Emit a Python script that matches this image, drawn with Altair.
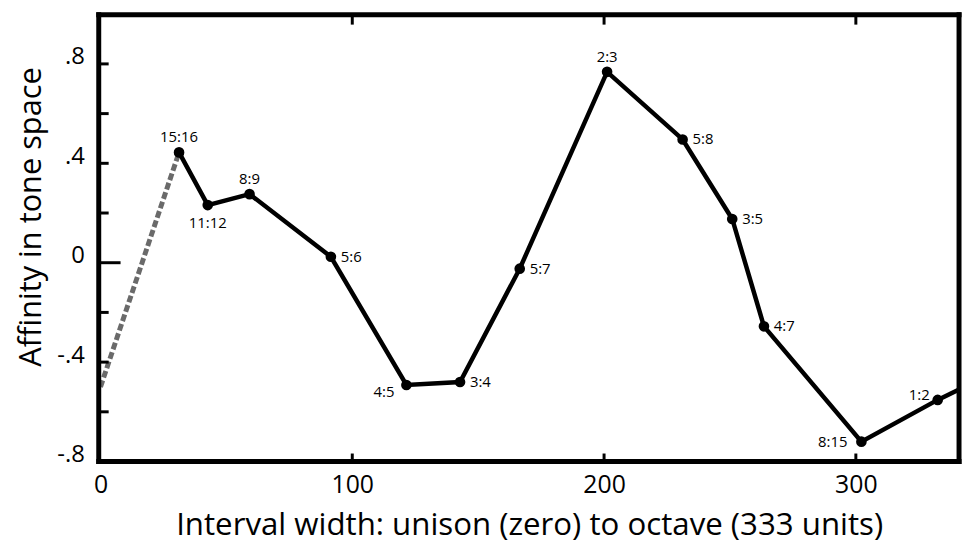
import altair as alt
import pandas as pd

# ---- data ----
ratios = ["15:16", "11:12", "8:9", "5:6", "4:5", "3:4", "5:7", "2:3",
          "5:8", "3:5", "4:7", "8:15", "1:2"]
widths = [31.2, 42.6, 59.2, 91.5, 121.5, 142.8, 166.5, 201.2,
          231.2, 250.9, 263.5, 302.2, 332.5]
affinity = [0.444, 0.232, 0.276, 0.024, -0.492, -0.48, -0.024, 0.768,
            0.496, 0.176, -0.256, -0.72, -0.552]

# dashed lead-in from unison to 15:16
dash_x = [0, 31.2]
dash_y = [-0.5, 0.444]
# line continues past the octave to the right edge
tail_x = 341
tail_y = -0.51

x_tick_values = [0, 100, 200, 300]
y_tick_values = [-0.8, -0.4, 0, 0.4, 0.8]
y_minor_ticks = [-0.6, -0.4, -0.2, 0.2, 0.4, 0.6, 0.8]
y_zero_tick = [0]
x_frame_ticks = [100, 200, 300]

# ---- label placement (style) ----
placement = {
    "15:16": "above", "8:9": "above", "2:3": "above",
    "11:12": "below",
    "5:6": "right", "3:4": "right", "5:7": "right", "5:8": "right",
    "3:5": "right", "4:7": "right",
    "8:15": "left",
    "4:5": "leftbelow",
    "1:2": "leftabove",
}

pts = pd.DataFrame({"ratio": ratios, "w": widths, "a": affinity})
pts["pos"] = pts["ratio"].map(placement)
line_df = pd.DataFrame({"w": widths + [tail_x], "a": affinity + [tail_y],
                        "order": list(range(len(widths) + 1))})
dash_df = pd.DataFrame({"w": dash_x, "a": dash_y})

W, H = 873, 456
FONT = "Open Sans"
xs = alt.Scale(domain=[-1.68, 342.16], nice=False, zero=False)
ys = alt.Scale(domain=[-0.8117, 1.008], nice=False, zero=False)

x_enc = alt.X("w:Q", scale=xs,
              axis=alt.Axis(values=x_tick_values, ticks=False, domain=False, grid=False,
                            labelFont=FONT, labelFontSize=25, labelColor="black",
                            labelPadding=8, labelBaseline="top",
                            title="Interval width: unison (zero) to octave (333 units)",
                            titleFont=FONT, titleFontSize=31.5, titleFontWeight="normal",
                            titleColor="black", titleBaseline="alphabetic", titleY=71))
y_enc = alt.Y("a:Q", scale=ys,
              axis=alt.Axis(values=y_tick_values, ticks=False, domain=False, grid=False,
                            labelFont=FONT, labelFontSize=24, labelColor="black",
                            labelPadding=12, labelBaseline="alphabetic",
                            labelExpr="datum.value == 0 ? '0' : (datum.value < 0 ? '-' : '') + replace(format(abs(datum.value), '.1f'), '0.', '.')",
                            title="Affinity in tone space",
                            titleFont=FONT, titleFontSize=31, titleFontWeight="normal",
                            titleColor="black", titleBaseline="middle",
                            titleX=-65, titleY=206))

dashed = alt.Chart(dash_df).mark_line(color="#6a6a6a", strokeWidth=5,
                                      strokeDash=[7, 3]).encode(x=x_enc, y=y_enc)
solid = alt.Chart(line_df).mark_line(color="black", strokeWidth=4.5).encode(
    x=alt.X("w:Q", scale=xs), y=alt.Y("a:Q", scale=ys), order="order:Q")
dots = alt.Chart(pts).mark_circle(color="black", opacity=1, size=115).encode(
    x=alt.X("w:Q", scale=xs), y=alt.Y("a:Q", scale=ys))

def labels(pos, **kw):
    return alt.Chart(pts).transform_filter(alt.datum.pos == pos).mark_text(
        font=FONT, fontSize=15, color="black", **kw).encode(
        x=alt.X("w:Q", scale=xs), y=alt.Y("a:Q", scale=ys), text="ratio:N")

lab_layers = [
    labels("above", dy=-15, align="center", baseline="middle"),
    labels("below", dy=18, align="center", baseline="middle"),
    labels("right", dx=10, align="left", baseline="middle"),
    labels("left", dx=-14, align="right", baseline="middle"),
    labels("leftbelow", dx=-12, dy=7, align="right", baseline="middle"),
    labels("leftabove", dx=-8, dy=-5, align="right", baseline="middle"),
]

# frame geometry (pixels inside the plot group): solid bands 5px thick
FL, FR, FT, FB = 2.5, 870.0, 2.5, 453.0
FW = 5

# inward frame ticks
ytick_df = pd.DataFrame({"a": y_minor_ticks})
yzero_df = pd.DataFrame({"a": y_zero_tick})
xtick_df = pd.DataFrame({"w": x_frame_ticks})
yticks = alt.Chart(ytick_df).mark_rule(color="black", strokeWidth=3).encode(
    y=alt.Y("a:Q", scale=ys), x=alt.value(FL), x2=alt.value(FL + 10))
yzero = alt.Chart(yzero_df).mark_rule(color="black", strokeWidth=3).encode(
    y=alt.Y("a:Q", scale=ys), x=alt.value(FL), x2=alt.value(FL + 22))
xticks_b = alt.Chart(xtick_df).mark_rule(color="black", strokeWidth=3).encode(
    x=alt.X("w:Q", scale=xs), y=alt.value(FB), y2=alt.value(FB - 8))
xticks_t = alt.Chart(xtick_df).mark_rule(color="black", strokeWidth=3).encode(
    x=alt.X("w:Q", scale=xs), y=alt.value(FT), y2=alt.value(FT + 10))

# thick frame drawn as four filled bands
edge = pd.DataFrame({"k": [0]})
h = FW / 2
def band(x, x2, y, y2):
    return alt.Chart(edge).mark_rect(color="black", opacity=1, strokeWidth=0).encode(
        x=alt.value(x), x2=alt.value(x2), y=alt.value(y), y2=alt.value(y2))
frame = [
    band(FL - h, FL + h, FT - h, FB + h),
    band(FR - h, FR + h, FT - h, FB + h),
    band(FL - h, FR + h, FT - h, FT + h),
    band(FL - h, FR + h, FB - h, FB + h),
]

chart = alt.layer(dashed, solid, dots, *lab_layers, yticks, yzero, xticks_b, xticks_t,
                  *frame).properties(
    width=W, height=H,
    autosize=alt.AutoSizeParams(type="none"),
    padding={"left": 89, "top": 2, "right": 1, "bottom": 80},
    background="white",
).configure_view(stroke=None)

chart.save("out.html", embed_options={"renderer": "svg", "actions": False})
